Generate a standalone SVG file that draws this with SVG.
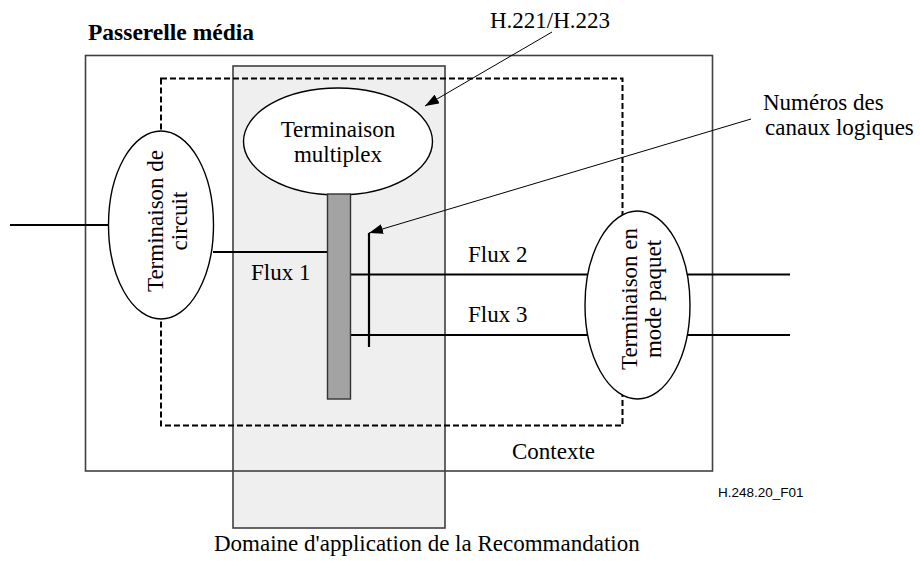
<svg xmlns="http://www.w3.org/2000/svg" width="920" height="561" viewBox="0 0 920 561">
<defs>
<style>
.t{font-family:"Liberation Serif","Times New Roman",serif;font-size:23px;fill:#000}
.b{font-weight:bold;font-size:23.5px}
.a{font-family:"Liberation Sans",Arial,sans-serif;font-size:13.5px;fill:#000}
.frame{fill:none;stroke:#404040;stroke-width:1.6}
.dash{fill:none;stroke:#000;stroke-width:2;stroke-dasharray:6 3}
.ell{fill:#fff;stroke:#000;stroke-width:1.4}
.flow{stroke:#000;stroke-width:2.2;fill:none}
.lead{stroke:#000;stroke-width:1;fill:none}
</style>
<marker id="ah" viewBox="0 0 14 10" refX="14" refY="5" markerWidth="14" markerHeight="10" markerUnits="userSpaceOnUse" orient="auto">
<path d="M0,0 L14,5 L0,10 z" fill="#000"/>
</marker>
</defs>
<rect width="920" height="561" fill="#fff"/>

<g id="scope">
<rect x="233" y="66" width="212" height="462" fill="#efefef" stroke="#404040" stroke-width="1.6"/>
</g>

<g id="gateway">
<rect class="frame" x="85.5" y="55.5" width="627" height="415.5"/>
<text class="t b" x="88" y="40">Passerelle média</text>
</g>

<g id="context">
<rect class="dash" x="161" y="78.5" width="461.5" height="347"/>
<text class="t" x="512" y="459">Contexte</text>
</g>

<g id="connectors">
<line class="flow" x1="10" y1="225" x2="108" y2="225"/>
<line class="flow" x1="213" y1="252" x2="327" y2="252"/>
<line class="flow" x1="351" y1="274.5" x2="790" y2="274.5"/>
<line class="flow" x1="351" y1="335" x2="790" y2="335"/>
<line class="flow" x1="369" y1="233" x2="369" y2="347"/>
<line class="lead" x1="552" y1="32" x2="425" y2="106" marker-end="url(#ah)"/>
<line class="lead" x1="751" y1="119" x2="369" y2="233" marker-end="url(#ah)"/>
</g>

<g id="circuit-term">
<ellipse class="ell" cx="161" cy="225" rx="52.5" ry="94"/>
<g transform="translate(163,221) rotate(-90)">
<text class="t" x="0" y="0" text-anchor="middle">Terminaison de</text>
<text class="t" x="0" y="24" text-anchor="middle">circuit</text>
</g>
</g>

<g id="mux-term">
<ellipse class="ell" cx="338" cy="141.5" rx="94.5" ry="53.5"/>
<text class="t" x="338" y="137" text-anchor="middle">Terminaison</text>
<text class="t" x="338" y="162" text-anchor="middle">multiplex</text>
</g>

<g id="mux-bar">
<rect x="327.5" y="194" width="23" height="205" fill="#a3a3a3" stroke="#333" stroke-width="1.4"/>
</g>

<g id="packet-term">
<ellipse class="ell" cx="637.5" cy="305" rx="52.5" ry="94"/>
<g transform="translate(637,299) rotate(-90)">
<text class="t" x="0" y="0" text-anchor="middle">Terminaison en</text>
<text class="t" x="0" y="24" text-anchor="middle">mode paquet</text>
</g>
</g>

<g id="labels">
<text class="t" x="251" y="280">Flux 1</text>
<text class="t" x="468" y="262">Flux 2</text>
<text class="t" x="468" y="322">Flux 3</text>
<text class="t" x="490" y="28">H.221/H.223</text>
<text class="t" x="763" y="110">Numéros des</text>
<text class="t" x="765" y="135">canaux logiques</text>
<text class="a" x="718" y="497">H.248.20_F01</text>
<text class="t" x="214" y="551">Domaine d'application de la Recommandation</text>
</g>
</svg>
